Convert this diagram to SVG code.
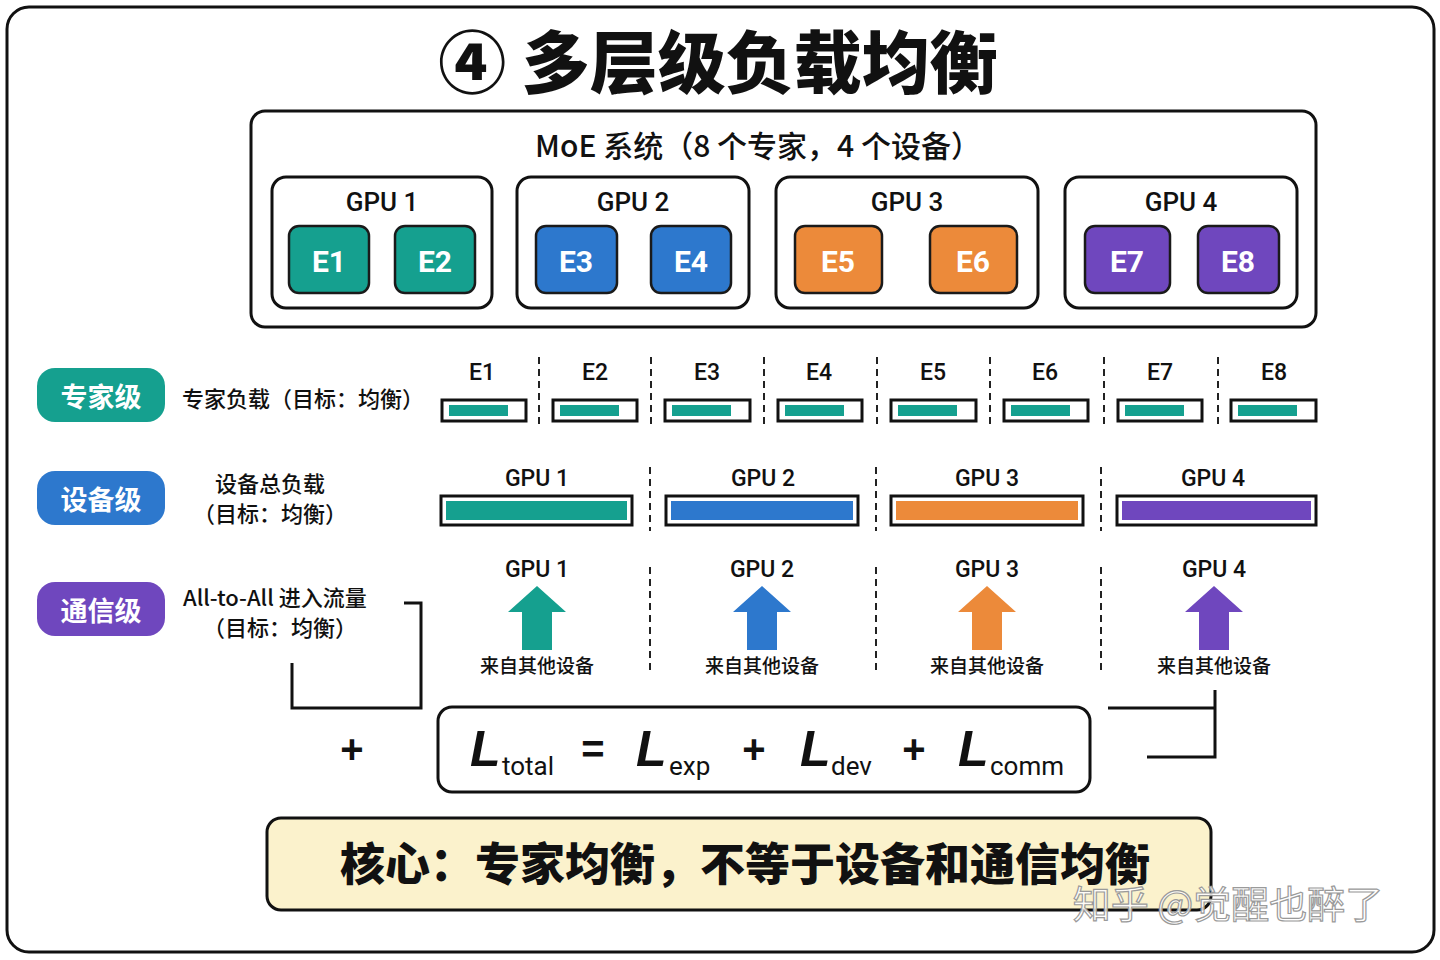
<svg xmlns="http://www.w3.org/2000/svg" width="1440" height="960" viewBox="0 0 1440 960">
<defs>
<style>
.cjk{font-family:"Noto Sans CJK SC","Liberation Sans",sans-serif;}
.lat{font-family:"Liberation Sans Narrow","Roboto","Liberation Sans","Noto Sans CJK SC",sans-serif;}
.box{fill:#fff;stroke:#111;stroke-width:3;}
.exp{stroke:#1a1a1a;stroke-width:2.5;}
.teal{fill:#15a08f;}
.blue{fill:#2d78cd;}
.orange{fill:#ec8a3a;}
.purple{fill:#6f47be;}
.ewhite{fill:#fff;font-size:30px;font-weight:bold;text-anchor:middle;}
.glabel{fill:#111;font-size:26px;font-weight:500;text-anchor:middle;}
.sm{fill:#111;font-size:23px;font-weight:500;text-anchor:middle;}
.sep{stroke:#222;stroke-width:2;stroke-dasharray:7 5;fill:none;}
.pilltxt{fill:#fff;font-size:27px;font-weight:bold;text-anchor:middle;}
.desc{fill:#111;font-size:22px;font-weight:500;}
.bar{fill:#fff;stroke:#111;stroke-width:3;}
.line{stroke:#111;stroke-width:3;fill:none;}
.bigL{font-family:"Liberation Sans",sans-serif;font-style:italic;font-weight:bold;font-size:50px;fill:#111;}
.sub{font-size:26px;fill:#111;}
.op{font-family:"Liberation Sans",sans-serif;font-weight:bold;font-size:40px;fill:#111;text-anchor:middle;}
</style>
</defs>
<rect width="1440" height="960" fill="#fff"/>
<rect x="7" y="7" width="1427" height="945" rx="22" fill="#fff" stroke="#111" stroke-width="3"/>

<g id="title">
<text x="718" y="88" class="cjk" font-size="68" font-weight="900" text-anchor="middle" fill="#111">④ 多层级负载均衡</text>
</g>

<g id="moe-system">
<rect x="251" y="111" width="1065" height="216" rx="14" class="box"/>
<text x="758" y="157" class="cjk" font-size="30" font-weight="500" text-anchor="middle" fill="#111">MoE 系统（8 个专家，4 个设备）</text>
</g>

<g id="gpu1">
<rect x="272" y="177" width="220" height="131" rx="14" class="box"/>
<text x="382" y="211" class="lat glabel">GPU 1</text>
</g>
<g id="gpu2">
<rect x="517" y="177" width="232" height="131" rx="14" class="box"/>
<text x="633" y="211" class="lat glabel">GPU 2</text>
</g>
<g id="gpu3">
<rect x="776" y="177" width="262" height="131" rx="14" class="box"/>
<text x="907" y="211" class="lat glabel">GPU 3</text>
</g>
<g id="gpu4">
<rect x="1065" y="177" width="232" height="131" rx="14" class="box"/>
<text x="1181" y="211" class="lat glabel">GPU 4</text>
</g>

<g id="e1"><rect x="289" y="226" width="80" height="67" rx="10" class="exp teal"/><text x="329" y="272" class="lat ewhite">E1</text></g>
<g id="e2"><rect x="395" y="226" width="80" height="67" rx="10" class="exp teal"/><text x="435" y="272" class="lat ewhite">E2</text></g>
<g id="e3"><rect x="536" y="226" width="81" height="67" rx="10" class="exp blue"/><text x="576" y="272" class="lat ewhite">E3</text></g>
<g id="e4"><rect x="651" y="226" width="80" height="67" rx="10" class="exp blue"/><text x="691" y="272" class="lat ewhite">E4</text></g>
<g id="e5"><rect x="795" y="226" width="87" height="67" rx="10" class="exp orange"/><text x="838" y="272" class="lat ewhite">E5</text></g>
<g id="e6"><rect x="930" y="226" width="87" height="67" rx="10" class="exp orange"/><text x="973" y="272" class="lat ewhite">E6</text></g>
<g id="e7"><rect x="1085" y="226" width="85" height="67" rx="10" class="exp purple"/><text x="1127" y="272" class="lat ewhite">E7</text></g>
<g id="e8"><rect x="1198" y="226" width="81" height="67" rx="10" class="exp purple"/><text x="1238" y="272" class="lat ewhite">E8</text></g>

<g id="level-expert">
<rect x="37" y="368" width="128" height="54" rx="18" class="teal"/>
<text x="101" y="407" class="cjk pilltxt">专家级</text>
<text x="182" y="407" class="cjk desc">专家负载（目标：均衡）</text>
</g>
<g id="expert-bars">
<text x="482" y="380" class="lat sm">E1</text>
<rect x="442" y="400" width="84" height="21" class="bar"/><rect x="449" y="405" width="59" height="11" class="teal"/>
<text x="595" y="380" class="lat sm">E2</text>
<rect x="553" y="400" width="84" height="21" class="bar"/><rect x="560" y="405" width="59" height="11" class="teal"/>
<text x="707" y="380" class="lat sm">E3</text>
<rect x="665" y="400" width="85" height="21" class="bar"/><rect x="672" y="405" width="59" height="11" class="teal"/>
<text x="819" y="380" class="lat sm">E4</text>
<rect x="778" y="400" width="84" height="21" class="bar"/><rect x="785" y="405" width="59" height="11" class="teal"/>
<text x="933" y="380" class="lat sm">E5</text>
<rect x="891" y="400" width="85" height="21" class="bar"/><rect x="898" y="405" width="59" height="11" class="teal"/>
<text x="1045" y="380" class="lat sm">E6</text>
<rect x="1004" y="400" width="84" height="21" class="bar"/><rect x="1011" y="405" width="59" height="11" class="teal"/>
<text x="1160" y="380" class="lat sm">E7</text>
<rect x="1118" y="400" width="84" height="21" class="bar"/><rect x="1125" y="405" width="59" height="11" class="teal"/>
<text x="1274" y="380" class="lat sm">E8</text>
<rect x="1231" y="400" width="85" height="21" class="bar"/><rect x="1238" y="405" width="59" height="11" class="teal"/>
</g>

<g id="level-device">
<rect x="37" y="471" width="128" height="54" rx="18" class="blue"/>
<text x="101" y="510" class="cjk pilltxt">设备级</text>
<text x="270" y="492" class="cjk desc" text-anchor="middle">设备总负载</text>
<text x="270" y="522" class="cjk desc" text-anchor="middle">（目标：均衡）</text>
</g>
<g id="device-bars">
<text x="537" y="486" class="lat sm">GPU 1</text>
<rect x="441" y="496" width="191" height="29" class="bar"/><rect x="446" y="501" width="181" height="19" class="teal"/>
<text x="763" y="486" class="lat sm">GPU 2</text>
<rect x="666" y="496" width="192" height="29" class="bar"/><rect x="671" y="501" width="182" height="19" class="blue"/>
<text x="987" y="486" class="lat sm">GPU 3</text>
<rect x="891" y="496" width="192" height="29" class="bar"/><rect x="896" y="501" width="182" height="19" class="orange"/>
<text x="1213" y="486" class="lat sm">GPU 4</text>
<rect x="1117" y="496" width="199" height="29" class="bar"/><rect x="1122" y="501" width="189" height="19" class="purple"/>
</g>

<g id="level-comm">
<rect x="37" y="582" width="128" height="54" rx="18" class="purple"/>
<text x="101" y="621" class="cjk pilltxt">通信级</text>
<text x="183" y="606" class="cjk desc" font-size="23">All-to-All 进入流量</text>
<text x="280" y="636" class="cjk desc" text-anchor="middle">（目标：均衡）</text>
</g>
<g id="comm-arrows">
<text x="537" y="577" class="lat sm">GPU 1</text>
<polygon points="537,586 566,612 552,612 552,650 522,650 522,612 508,612" class="teal"/>
<text x="537" y="673" class="cjk" font-size="19" font-weight="500" text-anchor="middle" fill="#111">来自其他设备</text>
<text x="762" y="577" class="lat sm">GPU 2</text>
<polygon points="762,586 791,612 777,612 777,650 747,650 747,612 733,612" class="blue"/>
<text x="762" y="673" class="cjk" font-size="19" font-weight="500" text-anchor="middle" fill="#111">来自其他设备</text>
<text x="987" y="577" class="lat sm">GPU 3</text>
<polygon points="987,586 1016,612 1002,612 1002,650 972,650 972,612 958,612" class="orange"/>
<text x="987" y="673" class="cjk" font-size="19" font-weight="500" text-anchor="middle" fill="#111">来自其他设备</text>
<text x="1214" y="577" class="lat sm">GPU 4</text>
<polygon points="1214,586 1243,612 1229,612 1229,650 1199,650 1199,612 1185,612" class="purple"/>
<text x="1214" y="673" class="cjk" font-size="19" font-weight="500" text-anchor="middle" fill="#111">来自其他设备</text>
</g>

<g id="connectors">
<line x1="539" y1="357" x2="539" y2="428" class="sep"/>
<line x1="651" y1="357" x2="651" y2="428" class="sep"/>
<line x1="764" y1="357" x2="764" y2="428" class="sep"/>
<line x1="877" y1="357" x2="877" y2="428" class="sep"/>
<line x1="990" y1="357" x2="990" y2="428" class="sep"/>
<line x1="1104" y1="357" x2="1104" y2="428" class="sep"/>
<line x1="1218" y1="357" x2="1218" y2="428" class="sep"/>
<line x1="650" y1="467" x2="650" y2="531" class="sep"/>
<line x1="876" y1="467" x2="876" y2="531" class="sep"/>
<line x1="1101" y1="467" x2="1101" y2="531" class="sep"/>
<line x1="650" y1="567" x2="650" y2="675" class="sep"/>
<line x1="876" y1="567" x2="876" y2="675" class="sep"/>
<line x1="1101" y1="567" x2="1101" y2="675" class="sep"/>
<polyline points="404,603 421,603 421,708 292,708 292,663" class="line"/>
<polyline points="1108,708 1215,708" class="line"/>
<polyline points="1215,690 1215,757 1147,757" class="line"/>
</g>

<g id="formula">
<text x="352" y="763" class="op" font-size="46">+</text>
<rect x="438" y="707" width="652" height="85" rx="14" class="box"/>
<text x="470" y="766" class="bigL">L</text>
<text x="502" y="775" class="lat sub">total</text>
<text x="593" y="763" class="op">=</text>
<text x="636" y="766" class="bigL">L</text>
<text x="669" y="775" class="lat sub">exp</text>
<text x="754" y="763" class="op">+</text>
<text x="800" y="766" class="bigL">L</text>
<text x="831" y="775" class="lat sub">dev</text>
<text x="914" y="763" class="op">+</text>
<text x="958" y="766" class="bigL">L</text>
<text x="990" y="775" class="lat sub">comm</text>
</g>

<g id="core">
<rect x="267" y="818" width="944" height="92" rx="14" fill="#fbf2cc" stroke="#111" stroke-width="3"/>
<text x="745" y="881" class="cjk" font-size="45" font-weight="900" text-anchor="middle" fill="#111">核心：专家均衡，不等于设备和通信均衡</text>
</g>

<g id="watermark">
<text x="1228" y="918" class="cjk" font-size="38" text-anchor="middle" fill="#fff" fill-opacity="0.85" stroke="#9a9a9a" stroke-width="1.2">知乎 @觉醒也醉了</text>
</g>
</svg>
